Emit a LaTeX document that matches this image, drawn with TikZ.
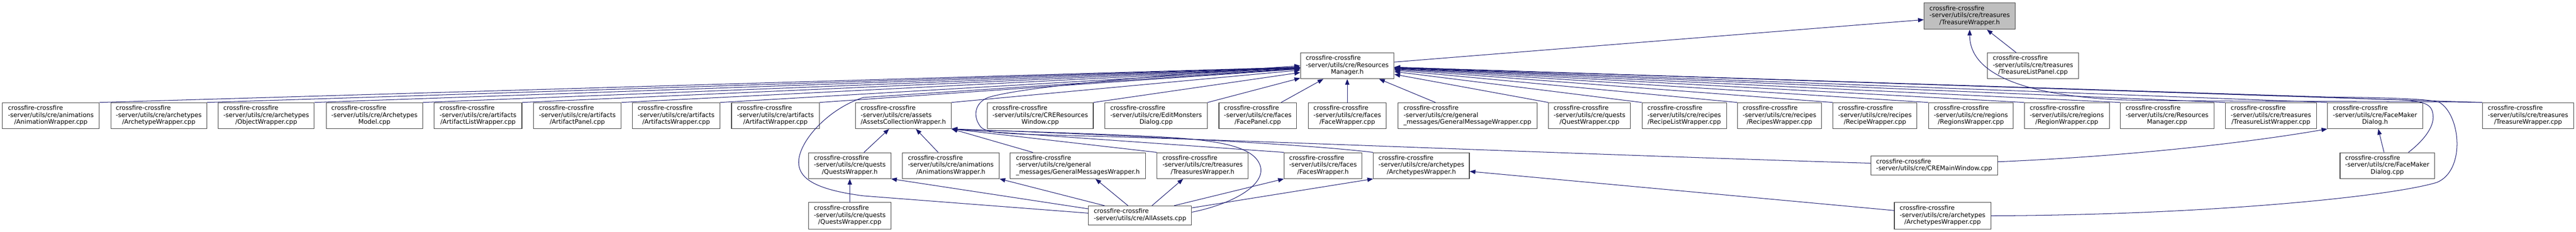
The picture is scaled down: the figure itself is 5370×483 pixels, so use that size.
\documentclass[tikz,border=0pt]{standalone}
\usepackage{fontspec}
\setmainfont{DejaVu Sans}
\usetikzlibrary{arrows.meta}
\definecolor{edgeblue}{RGB}{25,25,112}
\definecolor{boxgray}{RGB}{64,64,64}
\definecolor{mainfill}{RGB}{191,191,191}
\newcommand{\lblthree}[3]{\begin{tabular}{@{}l@{}}#1\\#2\\\multicolumn{1}{@{}c@{}}{#3}\end{tabular}}
\newcommand{\lbltwo}[2]{\begin{tabular}{@{}l@{}}#1\\\multicolumn{1}{@{}c@{}}{#2}\end{tabular}}
\newcommand{\bx}[7][]{\node[box,#1,minimum width={(#5)-(#3)},minimum height={(#6)-(#4)}] (#2) at ({((#3)+(#5))/2},{((#4)+(#6))/2}) {#7};}
\newcommand{\cf}{crossfire-crossfire}
\tikzset{
  box/.style={draw=boxgray,line width=1.2pt,fill=white,inner sep=0pt,font=\fontsize{13}{14.7}\selectfont},
  mainbox/.style={fill=mainfill},
  arr/.style={draw=edgeblue,line width=1.1pt,-{Triangle[length=12pt,width=9pt,fill=edgeblue]}}
}
\begin{document}
\begin{tikzpicture}[x=1pt,y=-1pt]
\useasboundingbox (0,0) rectangle (5370,483);
% row 0 and 1
\bx[mainbox]{TWh}{4011}{6}{4201}{61}{\lblthree{\cf}{-server/utils/cre/treasures}{/TreasureWrapper.h}}
\bx{RMh}{2711}{110}{2906}{164}{\lblthree{\cf}{-server/utils/cre/Resources}{Manager.h}}
\bx{TLP}{4143}{110}{4333}{164}{\lblthree{\cf}{-server/utils/cre/treasures}{/TreasureListPanel.cpp}}
% row 2
\bx{n1}{5}{214}{207}{268}{\lblthree{\cf}{-server/utils/cre/animations}{/AnimationWrapper.cpp}}
\bx{n2}{231}{214}{431}{268}{\lblthree{\cf}{-server/utils/cre/archetypes}{/ArchetypeWrapper.cpp}}
\bx{n3}{455}{214}{655}{268}{\lblthree{\cf}{-server/utils/cre/archetypes}{/ObjectWrapper.cpp}}
\bx{n4}{680}{214}{881}{268}{\lblthree{\cf}{-server/utils/cre/Archetypes}{Model.cpp}}
\bx{n5}{905}{214}{1088}{268}{\lblthree{\cf}{-server/utils/cre/artifacts}{/ArtifactListWrapper.cpp}}
\bx{n6}{1112}{214}{1295}{268}{\lblthree{\cf}{-server/utils/cre/artifacts}{/ArtifactPanel.cpp}}
\bx{n7}{1318}{214}{1501}{268}{\lblthree{\cf}{-server/utils/cre/artifacts}{/ArtifactsWrapper.cpp}}
\bx{n8}{1525}{214}{1708}{268}{\lblthree{\cf}{-server/utils/cre/artifacts}{/ArtifactWrapper.cpp}}
\bx{ACW}{1783}{214}{1983}{268}{\lblthree{\cf}{-server/utils/cre/assets}{/AssetsCollectionWrapper.h}}
\bx{n10}{2058}{214}{2279}{268}{\lblthree{\cf}{-server/utils/cre/CREResources}{Window.cpp}}
\bx{n11}{2303}{214}{2517}{268}{\lblthree{\cf}{-server/utils/cre/EditMonsters}{Dialog.cpp}}
\bx{n12}{2541}{214}{2703}{268}{\lblthree{\cf}{-server/utils/cre/faces}{/FacePanel.cpp}}
\bx{n13}{2727}{214}{2890}{268}{\lblthree{\cf}{-server/utils/cre/faces}{/FaceWrapper.cpp}}
\bx{n14}{2914}{214}{3204}{268}{\lblthree{\cf}{-server/utils/cre/general}{\_messages/GeneralMessageWrapper.cpp}}
\bx{n15}{3228}{214}{3399}{268}{\lblthree{\cf}{-server/utils/cre/quests}{/QuestWrapper.cpp}}
\bx{n16}{3423}{214}{3599}{268}{\lblthree{\cf}{-server/utils/cre/recipes}{/RecipeListWrapper.cpp}}
\bx{n17}{3622}{214}{3797}{268}{\lblthree{\cf}{-server/utils/cre/recipes}{/RecipesWrapper.cpp}}
\bx{n18}{3821}{214}{3996}{268}{\lblthree{\cf}{-server/utils/cre/recipes}{/RecipeWrapper.cpp}}
\bx{n19}{4020}{214}{4197}{268}{\lblthree{\cf}{-server/utils/cre/regions}{/RegionsWrapper.cpp}}
\bx{n20}{4220}{214}{4397}{268}{\lblthree{\cf}{-server/utils/cre/regions}{/RegionWrapper.cpp}}
\bx{n21}{4420}{214}{4615}{268}{\lblthree{\cf}{-server/utils/cre/Resources}{Manager.cpp}}
\bx{n22}{4639}{214}{4829}{268}{\lblthree{\cf}{-server/utils/cre/treasures}{/TreasureListWrapper.cpp}}
\bx{FMDh}{4852}{214}{5050}{268}{\lblthree{\cf}{-server/utils/cre/FaceMaker}{Dialog.h}}
\bx{n24}{5175}{214}{5365}{268}{\lblthree{\cf}{-server/utils/cre/treasures}{/TreasureWrapper.cpp}}
% row 3
\bx{QWh}{1686}{318}{1857}{372}{\lblthree{\cf}{-server/utils/cre/quests}{/QuestsWrapper.h}}
\bx{AWh}{1881}{318}{2083}{372}{\lblthree{\cf}{-server/utils/cre/animations}{/AnimationsWrapper.h}}
\bx{GMWh}{2106}{318}{2388}{372}{\lblthree{\cf}{-server/utils/cre/general}{\_messages/GeneralMessagesWrapper.h}}
\bx{TsWh}{2412}{318}{2602}{372}{\lblthree{\cf}{-server/utils/cre/treasures}{/TreasuresWrapper.h}}
\bx{FWh}{2677}{318}{2839}{372}{\lblthree{\cf}{-server/utils/cre/faces}{/FacesWrapper.h}}
\bx{ArWh}{2863}{318}{3063}{372}{\lblthree{\cf}{-server/utils/cre/archetypes}{/ArchetypesWrapper.h}}
\bx{CMW}{3900}{325}{4164}{365}{\lbltwo{\cf}{-server/utils/cre/CREMainWindow.cpp}}
\bx{FMDc}{4878}{318}{5075}{372}{\lblthree{\cf}{-server/utils/cre/FaceMaker}{Dialog.cpp}}
% row 4
\bx{QWc}{1686}{422}{1857}{477}{\lblthree{\cf}{-server/utils/cre/quests}{/QuestsWrapper.cpp}}
\bx{AA}{2269}{429}{2484}{469}{\lbltwo{\cf}{-server/utils/cre/AllAssets.cpp}}
\bx{ArWc}{3949}{422}{4150}{477}{\lblthree{\cf}{-server/utils/cre/archetypes}{/ArchetypesWrapper.cpp}}
% edges to TreasureWrapper.h
\draw[arr] (RMh) -- (TWh);
\draw[arr] (TLP) -- (TWh);
\draw[arr] (n24.north west) .. controls (5000,210) and (4550,212) .. (4420,208) .. controls (4250,200) and (4106,165) .. (TWh.south);
% edges to ResourcesManager.h (left)
\foreach \n in {n1,n2,n3,n4,n5,n6,n7,n8,ACW,n10,n11}{\draw[arr] (\n.north east) -- (RMh);}
\draw[arr] ([xshift=-33pt]n12.north east) -- (RMh);
\draw[arr] (n13) -- (RMh);
\draw[arr] ([xshift=79pt]n14.north west) -- (RMh);
\foreach \n in {n15,n16,n17,n18,n19,n20,n21,n22,FMDh,n24}{\draw[arr] (\n.north west) -- (RMh);}
% curved edges to ResourcesManager.h
\draw[arr] ([yshift=5pt]AA.west) -- (1800,408) .. controls (1700,395) and (1663,372) .. (1665,335) .. controls (1668,290) and (1730,225) .. (1800,203) -- (RMh);
\draw[arr] ([yshift=5pt]CMW.west) .. controls (3300,322) and (2600,292) .. (2250,283) .. controls (2120,279) and (2060,280) .. (2045,265) .. controls (2028,245) and (2030,215) .. (2060,203) .. controls (2120,185) and (2300,165) .. (RMh.west);
\draw[arr] (ArWc.east) .. controls (4600,448) and (4980,410) .. (5080,380) .. controls (5140,355) and (5130,240) .. (5085,213) .. controls (5060,205) and (4950,203) .. (4850,202) -- (RMh);
\draw[arr] ([xshift=44pt]FMDc.north) .. controls (5050,295) and (5075,265) .. (5072,240) .. controls (5070,220) and (5060,210) .. (5000,208) -- (RMh);
% edges to AssetsCollectionWrapper.h
\draw[arr] (QWh) -- (ACW);
\draw[arr] (AWh) -- (ACW);
\draw[arr] ([xshift=-94pt]GMWh.north) -- (ACW.south east);
\draw[arr] (TsWh.north west) -- (ACW.south east);
\draw[arr] (FWh.north west) -- (ACW.south east);
\draw[arr] (ArWh.north west) .. controls (2700,298) and (2300,280) .. (ACW.south east);
\draw[arr] ([yshift=7pt]AA.east) .. controls (2570,425) and (2640,385) .. (2627,345) .. controls (2615,310) and (2560,295) .. (2450,287) .. controls (2300,278) and (2060,272) .. (ACW.south east);
% edges from AllAssets.cpp to headers
\draw[arr] ([yshift=14pt]AA.west) -- (QWh.south east);
\draw[arr] ([xshift=34pt]AA.north west) -- (AWh.south east);
\draw[arr] ([xshift=83pt]AA.north west) -- ([xshift=-105pt]GMWh.south east);
\draw[arr] ([xshift=133pt]AA.north west) -- ([xshift=55pt]TsWh.south west);
\draw[arr] ([xshift=-37pt]AA.north east) -- (FWh.south west);
\draw[arr] ([yshift=16pt]AA.east) -- (ArWh.south west);
% other edges
\draw[arr] (QWc) -- (QWh);
\draw[arr] ([yshift=11pt]ArWc.west) -- ([yshift=-12pt]ArWh.east);
\draw[arr] ([yshift=8pt]CMW.east) .. controls (4450,325) and (4700,295) .. (FMDh.south west);
\draw[arr] (FMDc) -- (FMDh);
\end{tikzpicture}
\end{document}
